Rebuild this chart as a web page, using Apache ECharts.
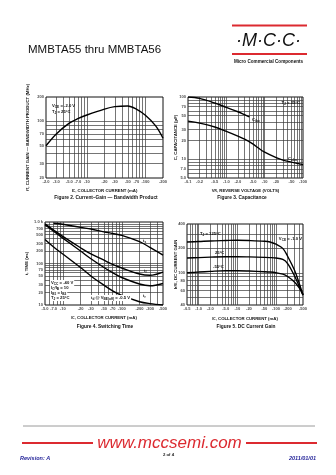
<!DOCTYPE html>
<html>
<head>
<meta charset="utf-8">
<script src="https://cdn.jsdelivr.net/npm/echarts@6/dist/echarts.min.js"></script>
<style>
html,body{margin:0;padding:0;background:#fff}
#page{width:336px;height:475px}
</style>
</head>
<body>
<div id="page"></div>
<script>
// ---- Figure 2: current-gain bandwidth product vs collector current ----
const fig2Current = [2, 3, 5, 7, 10, 20, 30, 50, 70, 100, 150, 200];
const fig2Ft = [50, 70, 95, 108, 120, 142, 152, 155, 142, 119, 88, 62];
const fig2XTicks = [2, 3, 5, 7, 10, 20, 30, 50, 70, 100, 200];
const fig2XLabels = ['-2.0', '-3.0', '-5.0', '-7.0', '-10', '-20', '-30', '-50', '-70', '-100', '-200'];
const fig2YTicks = [20, 30, 50, 70, 100, 200];
const fig2YLabels = ['20', '30', '50', '70', '100', '200'];

// ---- Figure 3: capacitance vs reverse voltage ----
const fig3CiboVolts = [0.1, 0.2, 0.5, 1, 2, 3, 4];
const fig3Cibo = [100, 95, 80, 68, 58, 52, 48];
const fig3CoboVolts = [0.1, 0.2, 0.5, 1, 2, 3, 5, 7, 10, 20, 30, 50, 100];
const fig3Cobo = [41, 38, 33, 28, 23.5, 21, 17.5, 15, 13, 10.6, 9.7, 9, 8.2];
const fig3XTicks = [0.1, 0.2, 0.5, 1, 2, 5, 10, 20, 50, 100];
const fig3XLabels = ['-0.1', '-0.2', '-0.5', '-1.0', '-2.0', '-5.0', '-10', '-20', '-50', '-100'];
const fig3YTicks = [5, 7, 10, 20, 30, 50, 70, 100];
const fig3YLabels = ['5.0', '7.0', '10', '20', '30', '50', '70', '100'];

// ---- Figure 4: switching time vs collector current ----
const fig4TsCurrent = [7, 10, 20, 30, 50, 70, 100, 200, 300, 500];
const fig4Ts = [930, 880, 740, 680, 580, 530, 475, 335, 245, 160];
const fig4Current = [5, 7, 10, 20, 30, 50, 70, 100, 200, 300, 500];
const fig4Tf = [900, 640, 450, 240, 170, 120, 95, 78, 56, 52, 62];
const fig4Td = [860, 600, 410, 200, 130, 80, 60, 46, 32, 29, 33];
const fig4Tr = [380, 250, 170, 80, 50, 30, 22, 17, 12, 10.8, 10];
const fig4XTicks = [5, 7, 10, 20, 30, 50, 70, 100, 200, 300, 500];
const fig4XLabels = ['-5.0', '-7.0', '-10', '-20', '-30', '-50', '-70', '-100', '-200', '-300', '-500'];
const fig4YTicks = [10, 20, 30, 50, 70, 100, 200, 300, 500, 700, 1000];
const fig4YLabels = ['10', '20', '30', '50', '70', '100', '200', '300', '500', '700', '1.0 k'];

// ---- Figure 5: DC current gain vs collector current ----
const fig5Current = [0.5, 1, 2, 5, 10, 20, 50, 70, 100, 150, 200, 300, 400, 500];
const fig5Hfe125 = [240, 243, 247, 250, 252, 250, 245, 240, 225, 200, 160, 108, 74, 53];
const fig5Hfe25 = [152, 154, 156, 158, 158, 157, 155, 154, 152, 146, 130, 92, 68, 54];
const fig5HfeM55 = [100, 102, 104, 106, 106, 105, 103, 102, 100, 96, 90, 77, 65, 53];
const fig5XTicks = [0.5, 1, 2, 5, 10, 20, 50, 100, 200, 500];
const fig5XLabels = ['-0.5', '-1.0', '-2.0', '-5.0', '-10', '-20', '-50', '-100', '-200', '-500'];
const fig5YTicks = [40, 60, 80, 100, 200, 400];
const fig5YLabels = ['40', '60', '80', '100', '200', '400'];

const SANS = "'Liberation Sans', Arial, sans-serif";
const NARROW = "'Liberation Sans Narrow', 'Liberation Sans', Arial, sans-serif";
const RED = '#dc2a30';
const BLUE = '#26269a';

// plot rectangles of the four log-log panels
const panels = [
  { left: 46, top: 97, width: 117, height: 81, x: [2, 200], y: [20, 200] },
  { left: 188, top: 97, width: 115, height: 81, x: [0.1, 100], y: [5, 100] },
  { left: 45, top: 222, width: 118, height: 83, x: [5, 500], y: [10, 1000] },
  { left: 187, top: 224, width: 116, height: 81, x: [0.5, 500], y: [40, 400] }
];

// every 1..9 x 10^n value inside a range, for log-paper rulings
function logSteps(min, max) {
  const out = [];
  for (let e = -2; e <= 4; e++) {
    for (let k = 1; k <= 9; k++) {
      const v = Number((k * Math.pow(10, e)).toPrecision(6));
      if (v > min * 1.0001 && v < max * 0.9999) out.push(v);
    }
  }
  return out;
}

function axisName(fs) {
  return { fontSize: fs, fontFamily: NARROW, fontWeight: 'bold', color: '#111',
    rich: { n: { fontSize: fs, fontFamily: NARROW, fontWeight: 'bold', color: '#111' },
            s: { fontSize: fs * 0.75, fontFamily: NARROW, fontWeight: 'bold', color: '#111', padding: [2, 0, 0, 0] } } };
}

const xNames = [
  '{n|I}{s|C}{n|, COLLECTOR CURRENT (mA)}',
  '{n|V}{s|R}{n|, REVERSE VOLTAGE (VOLTS)}',
  '{n|I}{s|C}{n|, COLLECTOR CURRENT (mA)}',
  '{n|I}{s|C}{n|, COLLECTOR CURRENT (mA)}'
];
const yNames = [
  '{n|f}{s|T}{n|, CURRENT GAIN — BANDWIDTH PRODUCT (MHz)}',
  '{n|C, CAPACITANCE (pF)}',
  '{n|t, TIME (ns)}',
  '{n|h}{s|FE}{n|, DC CURRENT GAIN}'
];
const xGaps = [10, 10, 10, 11];
const yGaps = [16, 10, 16, 9];

const grids = panels.map(p => ({ left: p.left, top: p.top, width: p.width, height: p.height,
  show: true, borderColor: '#111', borderWidth: 1, backgroundColor: '#fff' }));

const xAxes = panels.map((p, i) => ({
  type: 'log', logBase: 10, gridIndex: i, min: p.x[0], max: p.x[1],
  axisLine: { show: false }, axisTick: { show: false }, axisLabel: { show: false }, splitLine: { show: false },
  name: xNames[i], nameLocation: 'middle', nameGap: xGaps[i], nameTextStyle: axisName(4.3)
}));
const yAxes = panels.map((p, i) => ({
  type: 'log', logBase: 10, gridIndex: i, min: p.y[0], max: p.y[1],
  axisLine: { show: false }, axisTick: { show: false }, axisLabel: { show: false }, splitLine: { show: false },
  name: yNames[i], nameLocation: 'middle', nameGap: yGaps[i], nameTextStyle: axisName(4.3)
}));

const tickFont = { fontSize: 4, fontFamily: NARROW, fontWeight: 'bold', color: '#111' };

// tick labels (as zero-size points on the panel edges) plus the log-paper rulings
function paper(i, xt, xl, yt, yl) {
  const p = panels[i];
  const rules = [];
  logSteps(p.x[0], p.x[1]).forEach(v => rules.push({ xAxis: v }));
  logSteps(p.y[0], p.y[1]).forEach(v => rules.push({ yAxis: v }));
  return [
    {
      type: 'scatter', xAxisIndex: i, yAxisIndex: i, symbolSize: 0, silent: true, clip: false, z: 1,
      data: xt.map(v => [v, p.y[0]]),
      label: { show: true, position: 'bottom', distance: 2, ...tickFont, formatter: d => xl[d.dataIndex] },
      markLine: { silent: true, symbol: ['none', 'none'], animation: false, label: { show: false },
        lineStyle: { color: '#3a3a3a', width: 0.7, type: 'solid' }, emphasis: { disabled: true }, data: rules }
    },
    {
      type: 'scatter', xAxisIndex: i, yAxisIndex: i, symbolSize: 0, silent: true, clip: false, z: 1,
      data: yt.map(v => [p.x[0], v]),
      label: { show: true, position: 'left', distance: 2, ...tickFont, formatter: d => yl[d.dataIndex] }
    }
  ];
}

function curve(i, xs, ys) {
  return { type: 'line', xAxisIndex: i, yAxisIndex: i, data: xs.map((x, k) => [x, ys[k]]),
    smooth: 0.35, showSymbol: false, silent: true, z: 5,
    lineStyle: { color: '#000', width: 1.4 } };
}

const series = [
  ...paper(0, fig2XTicks, fig2XLabels, fig2YTicks, fig2YLabels),
  ...paper(1, fig3XTicks, fig3XLabels, fig3YTicks, fig3YLabels),
  ...paper(2, fig4XTicks, fig4XLabels, fig4YTicks, fig4YLabels),
  ...paper(3, fig5XTicks, fig5XLabels, fig5YTicks, fig5YLabels),
  curve(0, fig2Current, fig2Ft),
  curve(1, fig3CiboVolts, fig3Cibo),
  curve(1, fig3CoboVolts, fig3Cobo),
  curve(2, fig4TsCurrent, fig4Ts),
  curve(2, fig4Current, fig4Tf),
  curve(2, fig4Current, fig4Td),
  curve(2, fig4Current, fig4Tr),
  curve(3, fig5Current, fig5Hfe125),
  curve(3, fig5Current, fig5Hfe25),
  curve(3, fig5Current, fig5HfeM55)
];

const noteRich = {
  n: { fontSize: 4.2, fontFamily: NARROW, fontWeight: 'bold', fill: '#111' },
  s: { fontSize: 3.2, fontFamily: NARROW, fontWeight: 'bold', fill: '#111', padding: [2, 0, 0, 0] }
};
function note(x, y, text, align, bg) {
  return { type: 'text', x: x, y: y, z: 50,
    style: { text: text, rich: noteRich, align: align || 'left', verticalAlign: 'middle',
      backgroundColor: bg ? '#fff' : null, padding: bg ? [0.5, 1] : 0 } };
}
function caption(x, y, text) {
  return { type: 'text', x: x, y: y, z: 50,
    style: { text: text, font: 'bold 4.8px ' + NARROW, fill: '#111', align: 'center', verticalAlign: 'middle' } };
}

const graphics = [
  // header
  { type: 'text', x: 28, y: 50, style: { text: 'MMBTA55 thru MMBTA56', font: '11.5px ' + SANS, fill: '#111', verticalAlign: 'middle' } },
  { type: 'rect', shape: { x: 232, y: 24.5, width: 75, height: 2 }, style: { fill: RED } },
  { type: 'rect', shape: { x: 232, y: 53, width: 75, height: 2 }, style: { fill: RED } },
  { type: 'text', x: 268.5, y: 41, style: { text: '·M·C·C·', font: 'italic 18px ' + SANS, fill: '#111', align: 'center', verticalAlign: 'middle' } },
  { type: 'text', x: 268.5, y: 62, style: { text: 'Micro Commercial Components', font: 'bold 4.6px ' + SANS, fill: '#111', align: 'center', verticalAlign: 'middle' } },

  // panel notes
  note(52, 106, '{n|V}{s|CE}{n| = -2.0 V}'),
  note(52, 112, '{n|T}{s|J}{n| = 25°C}'),
  note(300, 103, '{n|T}{s|J}{n| = 25°C}', 'right'),
  note(252, 120, '{n|C}{s|ibo}'),
  note(288, 159, '{n|C}{s|obo}'),
  note(143, 241, '{n|t}{s|s}'),
  note(144, 271, '{n|t}{s|f}'),
  note(143, 296, '{n|t}{s|r}'),
  note(50, 283, '{n|V}{s|CC}{n| = -40 V}', 'left', true),
  note(50, 288, '{n|I}{s|C}{n|/I}{s|B}{n| = 10}', 'left', true),
  note(50, 293, '{n|I}{s|B1}{n| = I}{s|B2}', 'left', true),
  note(50, 298, '{n|T}{s|J}{n| = 25°C}', 'left', true),
  note(90, 298, '{n|t}{s|d}{n| @ V}{s|BE(off)}{n| = -0.5 V}', 'left', true),
  note(200, 234, '{n|T}{s|J}{n| = 125°C}'),
  note(215, 253, '{n|25°C}'),
  note(213, 267, '{n|-55°C}'),
  note(302, 239, '{n|V}{s|CE}{n| = -1.0 V}', 'right'),

  // figure captions
  caption(106, 198, 'Figure 2. Current–Gain — Bandwidth Product'),
  caption(242, 198, 'Figure 3. Capacitance'),
  caption(105, 327, 'Figure 4. Switching Time'),
  caption(246, 327, 'Figure 5. DC Current Gain'),

  // footer
  { type: 'line', shape: { x1: 23, y1: 426, x2: 315, y2: 426 }, style: { stroke: '#9a9a9a', lineWidth: 1 } },
  { type: 'rect', shape: { x: 22, y: 442, width: 71, height: 2 }, style: { fill: RED } },
  { type: 'rect', shape: { x: 246, y: 442, width: 71, height: 2 }, style: { fill: RED } },
  { type: 'text', x: 169.5, y: 443, style: { text: 'www.mccsemi.com', font: 'italic 17px ' + SANS, fill: RED, align: 'center', verticalAlign: 'middle' } },
  { type: 'text', x: 20, y: 458, style: { text: 'Revision: A', font: 'italic bold 5.5px ' + SANS, fill: BLUE, verticalAlign: 'middle' } },
  { type: 'text', x: 168.5, y: 455, style: { text: '2 of 4', font: 'bold 4.3px ' + SANS, fill: '#222', align: 'center', verticalAlign: 'middle' } },
  { type: 'text', x: 316, y: 458, style: { text: '2011/01/01', font: 'italic bold 5.5px ' + SANS, fill: BLUE, align: 'right', verticalAlign: 'middle' } }
];

const chart = echarts.init(document.getElementById('page'), null, { renderer: 'canvas' });
chart.setOption({
  animation: false,
  backgroundColor: '#fff',
  grid: grids,
  xAxis: xAxes,
  yAxis: yAxes,
  series: series,
  graphic: graphics
});
</script>
</body>
</html>
